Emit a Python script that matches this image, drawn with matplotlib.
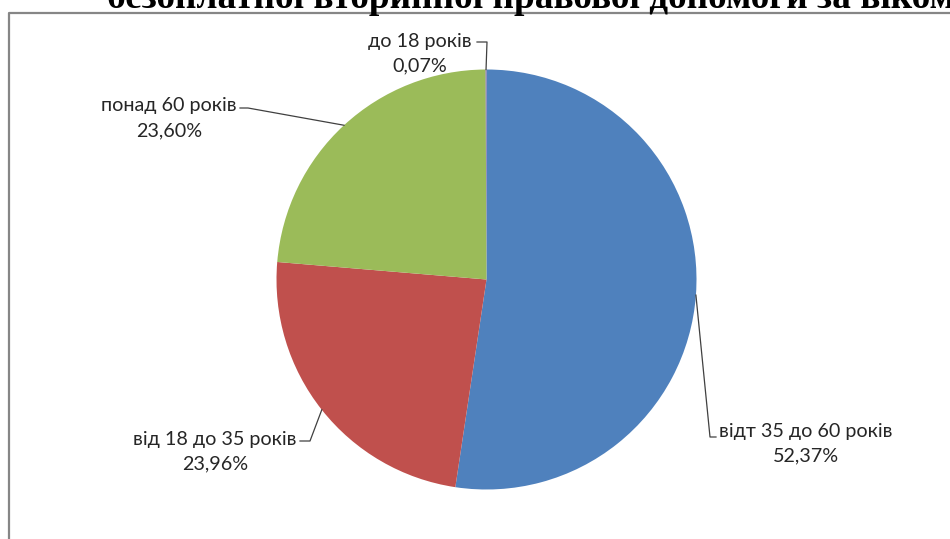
import numpy as np
import matplotlib
matplotlib.use('Agg')
import matplotlib.pyplot as plt

title = 'безоплатної вторинної правової допомоги за віком'
categories = ['відт 35 до 60 років', 'від 18 до 35 років', 'понад 60 років', 'до 18 років']
shares = [52.37, 23.96, 23.60, 0.07]
share_labels = ['52,37%', '23,96%', '23,60%', '0,07%']
colors = ['#4F81BD', '#C0504D', '#9BBB59', '#8064A2']

W, H = 950, 539
cx, cy, R = 486.5, H - 279.5, 210

# label layout in pixels from top-left: text centre, stub end x, elbow x, line y
label_pos = [(806, 431), (215, 439), (169, 106), (420, 41)]
stub = [(716, 710, 437), (300, 310, 441), (240, 248, 108), (477, 487, 42)]

plt.rcParams['font.family'] = ['Lato', 'DejaVu Sans']

fig = plt.figure(figsize=(W / 100, H / 100), dpi=100)
ax = fig.add_axes([0, 0, 1, 1])
ax.pie(shares, colors=colors, startangle=90, counterclock=False,
       center=(cx, cy), radius=R, wedgeprops=dict(linewidth=0))
ax.set_xlim(0, W)
ax.set_ylim(0, H)
ax.set_aspect('auto')
ax.axis('off')

# leader lines to slice middles
total = sum(shares)
start = 90.0
for i, v in enumerate(shares):
    frac = v / total
    mid = np.radians(start - frac * 180)
    start -= frac * 360
    px, py = cx + R * np.cos(mid), cy + R * np.sin(mid)
    x0, x1, ly = stub[i]
    ax.plot([x0, x1, px], [H - ly, H - ly, py], color='#404040', lw=0.9,
            clip_on=False)
    tx, ty = label_pos[i]
    ax.text(tx, H - ty, categories[i], ha='center', va='center',
            fontsize=14.2, color='#262626')
    ax.text(tx, H - ty - 25, share_labels[i], ha='center', va='center',
            fontsize=14.2, color='#262626')

# chart frame
ax.plot([9, 9, W + 5], [-5, H - 13, H - 13], color='#868686', lw=1.6,
        clip_on=False)

fig.text(107 / W, 1 - 8 / H, title, ha='left', va='baseline',
         fontsize=26.8, fontweight='bold', family='Liberation Serif')

fig.savefig('out.png', dpi=100)
